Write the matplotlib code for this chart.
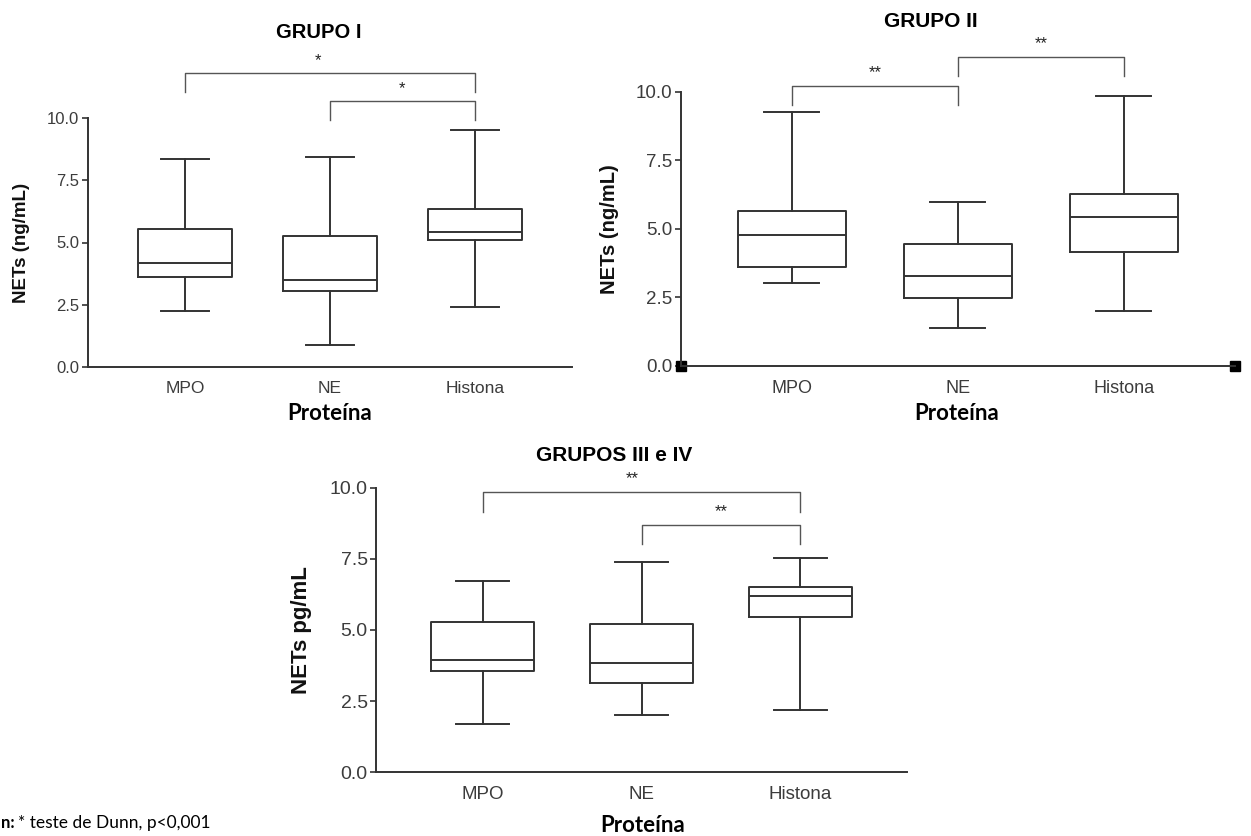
import matplotlib.pyplot as plt

plt.rcParams["font.family"] = ["Liberation Sans", "DejaVu Sans"]

W, H = 1251, 836

categorias = ["MPO", "NE", "Histona"]

# GRUPO I
g1_min = [2.23, 0.90, 2.40]
g1_q1 = [3.61, 3.05, 5.10]
g1_med = [4.16, 3.49, 5.41]
g1_q3 = [5.55, 5.25, 6.36]
g1_max = [8.35, 8.42, 9.50]

# GRUPO II
g2_min = [3.01, 1.37, 2.01]
g2_q1 = [3.62, 2.46, 4.17]
g2_med = [4.76, 3.27, 5.42]
g2_q3 = [5.66, 4.45, 6.27]
g2_max = [9.26, 5.97, 9.87]

# GRUPOS III e IV
g3_min = [1.70, 2.00, 2.20]
g3_q1 = [3.55, 3.15, 5.45]
g3_med = [3.95, 3.85, 6.21]
g3_q3 = [5.29, 5.20, 6.50]
g3_max = [6.73, 7.39, 7.54]

# comparacoes: (grupo a, grupo b, altura, altura das pernas, texto)
g1_sig = [(1, 3, 11.82, 11.06, "*"), (2, 3, 10.67, 9.90, "*")]
g2_sig = [(1, 2, 10.22, 9.52, "**"), (2, 3, 11.28, 10.58, "**")]
g3_sig = [(1, 3, 9.84, 9.16, "**"), (2, 3, 8.68, 8.01, "**")]

LC = "#333333"
TC = "#3c3c3c"


def px_axes(fig, l, r, b, t):
    return fig.add_axes([l / W, 1 - b / H, (r - l) / W, (b - t) / H])


def painel(ax, mins, q1s, meds, q3s, maxs, sig, star_dx, tick_fs, cat_fs, ylab, ylab_fs):
    stats = []
    for i in range(3):
        stats.append(dict(whislo=mins[i], q1=q1s[i], med=meds[i], q3=q3s[i],
                          whishi=maxs[i], fliers=[], label=categorias[i]))
    lw = 1.4
    ax.bxp(stats, positions=[1, 2, 3], widths=0.65, capwidths=0.33, showfliers=False,
           boxprops=dict(color=LC, linewidth=lw),
           whiskerprops=dict(color=LC, linewidth=lw),
           capprops=dict(color=LC, linewidth=lw),
           medianprops=dict(color=LC, linewidth=lw))
    ax.set_xlim(0.33, 3.67)
    ax.set_ylim(0, 10)
    ax.set_yticks([0, 2.5, 5, 7.5, 10])
    ax.set_yticklabels(["0.0", "2.5", "5.0", "7.5", "10.0"])
    for s in ["top", "right"]:
        ax.spines[s].set_visible(False)
    for s in ["left", "bottom"]:
        ax.spines[s].set_color(LC)
        ax.spines[s].set_linewidth(1.4)
    ax.tick_params(axis="y", colors=LC, labelcolor=TC, labelsize=tick_fs,
                   length=4, width=1.2, pad=2)
    ax.tick_params(axis="x", length=0, labelcolor=TC, labelsize=cat_fs, pad=10)
    ax.set_ylabel(ylab, fontsize=ylab_fs, fontweight="bold", color="#111111")
    ax.set_facecolor("none")
    for k, (a, b, y, yl, txt) in enumerate(sig):
        ax.plot([a, a, b, b], [yl, y, y, yl], color="#555555", lw=1.0, clip_on=False)
        ax.text((a + b) / 2 + star_dx[k], y + 0.2, txt, ha="center", va="bottom",
                fontsize=12, color="#222222", clip_on=False)


fig = plt.figure(figsize=(W / 100, H / 100), dpi=100)

ax1 = px_axes(fig, 87.7, 572, 367, 118)
painel(ax1, g1_min, g1_q1, g1_med, g1_q3, g1_max, g1_sig, [-0.08, 0.0],
       12, 12.5, "NETs (ng/mL)", 13.5)

ax2 = px_axes(fig, 680.6, 1235, 365.7, 92)
painel(ax2, g2_min, g2_q1, g2_med, g2_q3, g2_max, g2_sig, [0.0, 0.0],
       13.5, 13, "NETs (ng/mL)", 14.5)
ax2.plot([0.33, 3.67], [0, 0], ls="none", marker="s", ms=7, color="black", clip_on=False)

ax3 = px_axes(fig, 376, 907, 772.3, 487.7)
painel(ax3, g3_min, g3_q1, g3_med, g3_q3, g3_max, g3_sig, [-0.06, 0.0],
       14, 13.5, "NETs pg/mL", 16)

# posicoes dos rotulos do eixo y (borda direita do texto, em pixels)
for ax, xpx, l, r in [(ax1, 30, 87.7, 572), (ax2, 619, 680.6, 1235), (ax3, 312, 376, 907)]:
    ax.yaxis.set_label_coords((xpx - l) / (r - l), 0.5)

# titulos e rotulos do eixo x
fig.text(319 / W, 1 - 33 / H, "GRUPO I", ha="center", va="center",
         fontsize=14.5, fontweight="bold")
fig.text(931 / W, 1 - 21.7 / H, "GRUPO II", ha="center", va="center",
         fontsize=15, fontweight="bold")
fig.text(614 / W, 1 - 455 / H, "GRUPOS III e IV", ha="center", va="center",
         fontsize=15, fontweight="bold")
for xpx, ypx in [(330, 413), (957, 413), (643, 825)]:
    fig.text(xpx / W, 1 - ypx / H, "Proteína", ha="center", va="center",
             fontsize=16, fontweight="bold", fontfamily="Lato")

fig.text(1 / W, 1 - 823 / H, "n:", ha="left", va="center",
         fontsize=12, fontweight="bold", fontfamily="Lato")
fig.text(18 / W, 1 - 823 / H, "* teste de Dunn, p<0,001", ha="left", va="center",
         fontsize=12.5, fontfamily="Lato")

fig.savefig("out.png", dpi=100, facecolor="white")
